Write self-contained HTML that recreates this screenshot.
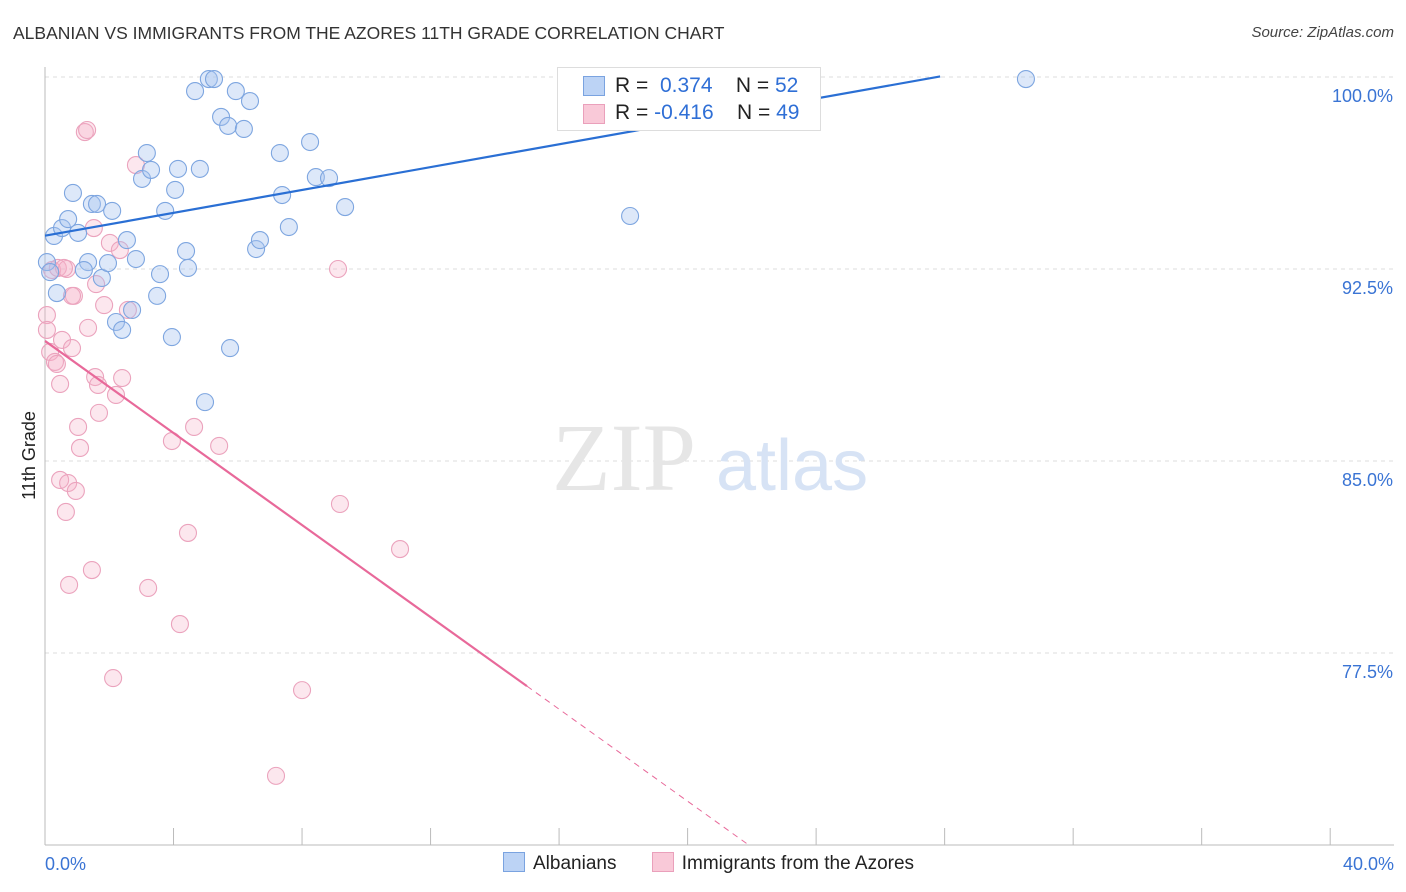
<!DOCTYPE html>
<html><head><meta charset="utf-8"><style>
body{margin:0;background:#fff;font-family:"Liberation Sans",sans-serif;}
#wrap{position:relative;width:1406px;height:892px;overflow:hidden;}
.t{position:absolute;white-space:nowrap;}
</style></head><body>
<div id="wrap">
<div class="t" style="left:13px;top:23px;font-size:17.5px;color:#333;">ALBANIAN VS IMMIGRANTS FROM THE AZORES 11TH GRADE CORRELATION CHART</div>
<div class="t" style="right:12px;top:24px;font-size:15px;color:#444;font-style:italic;">Source: ZipAtlas.com</div>
<div class="t" style="left:-15px;top:445px;font-size:18px;color:#222;transform:rotate(-90deg);">11th Grade</div>
<svg id="svg" width="1406" height="892" style="position:absolute;left:0;top:0"></svg>
<div style="position:absolute;left:557px;top:67px;width:262px;height:62px;border:1px solid #ddd;background:#fff;font-size:21px;">
 <div style="position:absolute;left:25px;top:8px;width:20px;height:18px;background:#bcd3f5;border:1px solid #7aa3e0"></div>
 <div class="t" style="left:57px;top:6px;color:#222">R = <span style="color:#2f6fd6">&nbsp;0.374</span>&nbsp;&nbsp;&nbsp; N = <span style="color:#2f6fd6">52</span></div>
 <div style="position:absolute;left:25px;top:36px;width:20px;height:18px;background:#f9c9d8;border:1px solid #eaa0bb"></div>
 <div class="t" style="left:57px;top:33px;color:#222">R = <span style="color:#2f6fd6">-0.416</span>&nbsp;&nbsp;&nbsp; N = <span style="color:#2f6fd6">49</span></div>
</div>
<div style="position:absolute;left:503px;top:852px;font-size:19px;color:#222;">
 <span style="display:inline-block;width:20px;height:18px;background:#bcd3f5;border:1px solid #7aa3e0;vertical-align:-3px;margin-right:8px"></span>Albanians
 <span style="display:inline-block;width:20px;height:18px;background:#f9c9d8;border:1px solid #eaa0bb;vertical-align:-3px;margin-left:30px;margin-right:8px"></span>Immigrants from the Azores
</div>
</div>
<script>
const blueX=[0.28,0.53,0.72,0.87,1.03,0.37,0.06,0.16,1.34,1.21,1.46,1.62,1.77,1.96,2.09,2.21,2.40,2.55,2.71,2.83,3.02,3.17,3.30,3.49,3.58,3.74,3.95,4.05,4.14,4.39,4.45,4.67,4.82,4.98,5.10,5.26,5.48,5.70,5.76,5.94,6.19,6.38,6.57,6.69,7.31,7.38,7.59,8.25,8.43,8.84,9.34,18.21,30.53];
const blueY=[93.79,94.10,94.45,95.47,93.91,91.56,92.77,92.38,92.77,92.46,95.04,95.04,92.15,92.73,94.77,90.43,90.12,93.63,90.90,92.89,96.02,97.03,96.37,91.45,92.30,94.77,89.84,95.59,96.41,93.20,92.54,99.45,96.41,87.30,99.92,99.92,98.44,98.09,89.41,99.45,97.97,99.06,93.28,93.63,97.03,95.39,94.14,97.46,96.09,96.05,94.92,94.57,99.92];
const pinkX=[0.06,0.06,0.16,0.22,0.31,0.40,0.47,0.47,0.53,0.65,0.68,0.72,0.75,0.84,0.90,0.96,1.03,1.09,1.24,1.31,1.34,1.46,1.52,1.56,1.59,1.65,1.68,1.84,2.02,2.12,2.21,2.33,2.40,2.58,2.83,3.21,3.95,4.20,4.45,4.64,5.42,7.19,8.00,9.12,9.18,11.05,0.59,0.84,0.37];
const pinkY=[90.70,90.12,89.26,92.46,88.87,92.54,88.01,84.26,89.73,83.01,92.50,84.14,80.16,89.41,91.45,83.83,86.33,85.51,97.85,97.93,90.20,80.74,94.10,88.28,91.91,87.97,86.88,91.09,93.52,76.52,87.58,93.24,88.24,90.90,96.56,80.04,85.78,78.63,82.19,86.33,85.59,72.70,76.05,92.50,83.32,81.56,92.54,91.45,88.79];
const blueTrend=[93.8,0.2233,27.86];
const pinkTrend=[89.69,-0.899,15.0,21.94];
const yTicks=[100,92.5,85,77.5];
const yTickLabels=["100.0%","92.5%","85.0%","77.5%"];
const xTicks=[0,4,8,12,16,20,24,28,32,36,40];

const X=v=>45+v*32.13, Y=v=>845-(v-70)*25.6;
const svg=document.getElementById('svg'), NS='http://www.w3.org/2000/svg';
function mk(t,a){const e=document.createElementNS(NS,t);for(const k in a)e.setAttribute(k,a[k]);svg.appendChild(e);return e;}
yTicks.forEach((v,i)=>{
 const g=mk('line',{x1:45,x2:1394,y1:Y(v),y2:Y(v),stroke:'#ddd','stroke-dasharray':'4,4'});
 
 
 const t=mk('text',{x:1393,y:Y(v)+25,'text-anchor':'end','font-size':18,fill:'#3a74d4','font-family':'Liberation Sans'});
 t.textContent=yTickLabels[i];
 
 
});
const ax=mk('line',{x1:45,x2:1394,y1:845,y2:845,stroke:'#bbb'});


const ay=mk('line',{x1:45,x2:45,y1:67,y2:845,stroke:'#bbb'});


xTicks.forEach(v=>{const l=mk('line',{x1:X(v),x2:X(v),y1:828,y2:845,stroke:'#bbb'});
 
 });
[[0,"0.0%",'start',45],[40,"40.0%",'end',1394]].forEach(a=>{const t=mk('text',{x:a[3],y:870,'text-anchor':a[2],'font-size':18,fill:'#3a74d4','font-family':'Liberation Sans'});t.textContent=a[1];
 
 });
const w1=mk('text',{x:552,y:490,'font-size':96,fill:'#e6e6e6','font-family':'Liberation Serif'});w1.textContent='ZIP';


const w2=mk('text',{x:716,y:490,'font-size':72,fill:'#d7e3f5','font-family':'Liberation Sans'});w2.textContent='atlas';


pinkX.forEach((v,i)=>{const c=mk('circle',{cx:X(v),cy:Y(pinkY[i]),r:8.5,fill:'rgba(246,175,200,0.3)',stroke:'#eba3bd','stroke-width':1.1});
 
 });
blueX.forEach((v,i)=>{const c=mk('circle',{cx:X(v),cy:Y(blueY[i]),r:8.5,fill:'rgba(165,195,238,0.38)',stroke:'#7ea6e0','stroke-width':1.1});
 
 });
const bl=mk('line',{x1:X(0),y1:Y(blueTrend[0]),x2:X(blueTrend[2]),y2:Y(blueTrend[0]+blueTrend[1]*blueTrend[2]),stroke:'#2a6fd4','stroke-width':2.2});


const pl=mk('line',{x1:X(0),y1:Y(pinkTrend[0]),x2:X(pinkTrend[2]),y2:Y(pinkTrend[0]+pinkTrend[1]*pinkTrend[2]),stroke:'#e8699a','stroke-width':2.2});


const pd=mk('line',{x1:X(pinkTrend[2]),y1:Y(pinkTrend[0]+pinkTrend[1]*pinkTrend[2]),x2:X(pinkTrend[3]),y2:Y(pinkTrend[0]+pinkTrend[1]*pinkTrend[3]),stroke:'#e8699a','stroke-width':1,'stroke-dasharray':'6,5'});


</script>
</body></html>
